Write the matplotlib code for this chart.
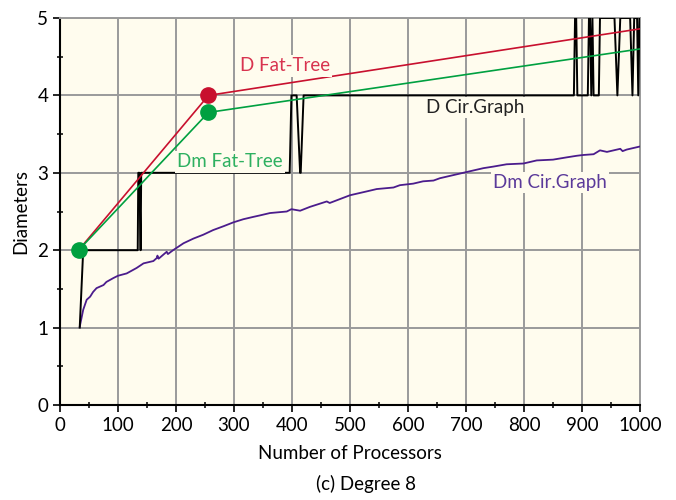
import matplotlib
matplotlib.use("Agg")
import matplotlib.pyplot as plt
from matplotlib.ticker import MultipleLocator

plt.rcParams['font.family'] = ['Lato', 'DejaVu Sans']

# fat-tree diameters (D and Dm)
ft_x = [32, 256, 1000]
ft_d = [2, 4, 4.86]
ft_dm = [2, 3.78, 4.6]

# circulant graph diameter D
cg_x = [34, 40, 134, 135, 137, 139, 140, 396, 399, 408, 414, 415, 420,
        886, 888, 890, 892, 910, 912, 914, 916, 918, 920, 929, 931, 953,
        956, 961, 966, 983, 987, 990, 995, 997, 999, 1000]
cg_d = [1, 2, 2, 3, 3, 2, 3, 3, 4, 4, 3, 3, 4,
        4, 5, 5, 4, 4, 5, 5, 4, 5, 4, 4, 5, 5,
        5, 4, 5, 5, 4, 5, 5, 4, 5, 5]

# circulant graph mean diameter Dm
cgm_x = [34, 40, 46, 52, 57, 63, 75, 80, 92, 100, 115, 132, 138, 144, 161,
         167, 168, 170, 184, 186, 195, 213, 230, 247, 264, 282, 299, 316,
         333, 345, 362, 391, 399, 414, 431, 460, 465, 500, 529, 546, 575,
         586, 609, 626, 644, 655, 678, 701, 730, 747, 770, 799, 822, 850,
         874, 891, 902, 920, 931, 943, 966, 970, 977, 1000]
cgm_dm = [1.01, 1.23, 1.36, 1.40, 1.46, 1.51, 1.55, 1.59, 1.64, 1.67, 1.70,
          1.77, 1.80, 1.83, 1.86, 1.90, 1.93, 1.89, 1.98, 1.95, 2.00, 2.09,
          2.15, 2.20, 2.26, 2.31, 2.36, 2.40, 2.43, 2.45, 2.48, 2.50, 2.53,
          2.51, 2.56, 2.63, 2.61, 2.71, 2.76, 2.79, 2.81, 2.84, 2.86, 2.89,
          2.90, 2.93, 2.97, 3.01, 3.06, 3.08, 3.11, 3.12, 3.16, 3.17, 3.20,
          3.22, 3.23, 3.24, 3.29, 3.27, 3.31, 3.28, 3.30, 3.34]

red = "#c8102e"
green = "#00a040"
purple = "#4b1c8c"
bg = "#fffcee"

fig = plt.figure(figsize=(6.76, 5.0), dpi=100)
ax = fig.add_axes([60 / 676, 95 / 500, 580 / 676, 387 / 500])
ax.set_facecolor(bg)

ax.plot(cgm_x, cgm_dm, color=purple, lw=1.3, zorder=3)
ax.plot(cg_x, cg_d, color="black", lw=1.4, zorder=3)
ax.plot(ft_x, ft_d, color=red, lw=1.2, zorder=4)
ax.plot(ft_x, ft_dm, color=green, lw=1.2, zorder=4)
ax.plot(ft_x[1], ft_d[1], "o", color=red, ms=11, zorder=5)
ax.plot(ft_x[:2], ft_dm[:2], "o", color=green, ms=11, zorder=5)

box = dict(facecolor=bg, edgecolor="none", pad=1.5)
ax.text(388, 4.38, "D Fat-Tree", color="#d8334f", fontsize=13.5,
        ha="center", va="center", bbox=box, zorder=6)
ax.text(293, 3.14, "Dm Fat-Tree", color="#2eb060", fontsize=13.5,
        ha="center", va="center", bbox=box, zorder=6)
ax.text(716, 3.84, "D Cir.Graph", color="#222222", fontsize=13.5,
        ha="center", va="center", bbox=box, zorder=6)
ax.text(845, 2.87, "Dm Cir.Graph", color="#5b3a9a", fontsize=13.5,
        ha="center", va="center", bbox=box, zorder=6)

ax.set_xlim(0, 1000)
ax.set_ylim(0, 5)
ax.xaxis.set_major_locator(MultipleLocator(100))
ax.xaxis.set_minor_locator(MultipleLocator(50))
ax.yaxis.set_major_locator(MultipleLocator(1))
ax.yaxis.set_minor_locator(MultipleLocator(0.5))
ax.grid(True, which="major", color="#9a9a9a", lw=1.4, zorder=1)
ax.set_axisbelow(True)
ax.tick_params(which="major", direction="out", length=5, width=1.2,
               labelsize=13.5, colors="black")
ax.tick_params(which="minor", direction="inout", length=5, width=1.1)
for s in ["left", "bottom"]:
    ax.spines[s].set_color("black")
    ax.spines[s].set_linewidth(1.5)
for s in ["top", "right"]:
    ax.spines[s].set_color("#9a9a9a")
    ax.spines[s].set_linewidth(1.4)

ax.set_xlabel("Number of Processors", fontsize=13.5, labelpad=8)
ax.set_ylabel("Diameters", fontsize=13.5, labelpad=6)
fig.text(366 / 676, 16 / 500, "(c) Degree 8", ha="center", va="center",
         fontsize=13.5)

fig.savefig("out.png", dpi=100)
